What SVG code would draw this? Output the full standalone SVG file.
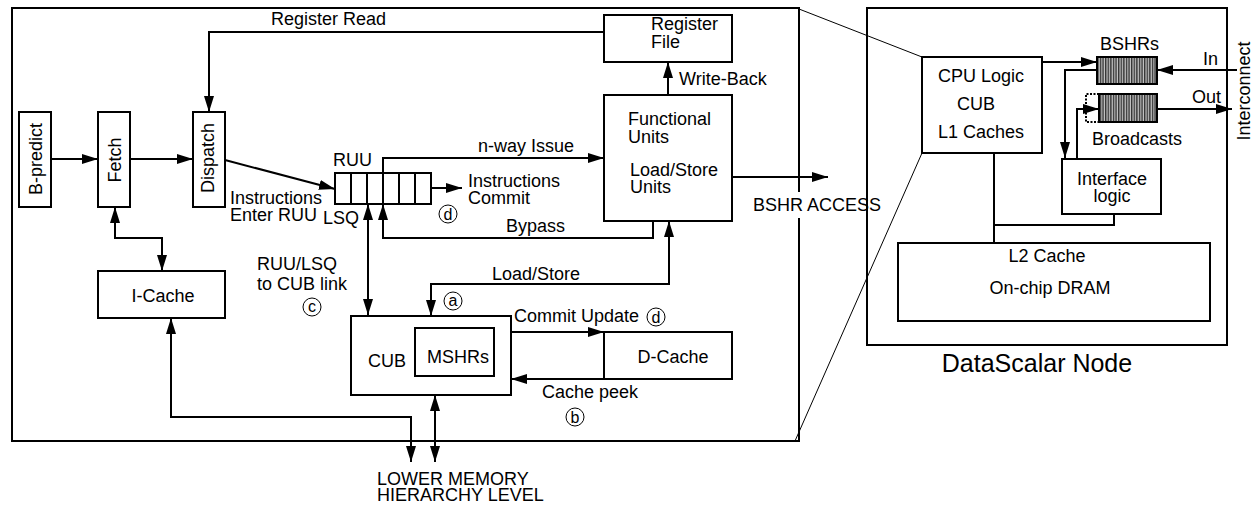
<svg xmlns="http://www.w3.org/2000/svg" width="1253" height="506" viewBox="0 0 1253 506">
<style>
text{font-family:"Liberation Sans",Arial,sans-serif;font-size:18px;fill:#000}
.box{fill:#fff;stroke:#000;stroke-width:2}
.frame{fill:none;stroke:#000;stroke-width:2}
.thin{fill:none;stroke:#000;stroke-width:1}
.e{fill:none;stroke:#000;stroke-width:2}
.ar{marker-end:url(#ah)}
.ar2{marker-start:url(#ah);marker-end:url(#ah)}
.circ{fill:none;stroke:#000;stroke-width:1}
.cl{font-size:16px;text-anchor:middle}
.mid{text-anchor:middle}
</style>
<defs>
<marker id="ah" viewBox="0 0 16 10" refX="16" refY="5" markerWidth="16" markerHeight="10" markerUnits="userSpaceOnUse" orient="auto-start-reverse"><path d="M0,0 L16,5 L0,10 z" fill="#000"/></marker>
<pattern id="stripe" patternUnits="userSpaceOnUse" width="2.6" height="10"><rect width="2.6" height="10" fill="#c8c8c8"/><rect width="1.4" height="10" fill="#333"/></pattern>
</defs>

<g id="frames">
<path class="frame" d="M799,192 V8 H12 V441 H799 V218"/>
<rect class="frame" x="867" y="8" width="360" height="337"/>
<text x="1037" y="372" class="mid" style="font-size:25px">DataScalar Node</text>
</g>

<g id="connectors">
<path class="e ar" d="M51,159 H98"/>
<path class="e ar" d="M130,159 H193"/>
<path class="e ar" d="M604,32 H209 V112"/>
<path class="e ar" d="M225,160 L335,189"/>
<path class="e ar" d="M383,173 V158 H604"/>
<path class="e ar" d="M431,188 H462"/>
<path class="e ar" d="M653,221 V238 H383 V204"/>
<path class="e ar" d="M668,95 V62"/>
<path class="e ar" d="M732,177 H828"/>
<path class="e ar2" d="M669,221 V284 H431 V316"/>
<path class="e ar2" d="M368,204 V315"/>
<path class="e ar2" d="M115,207 V238 H162 V271"/>
<path class="e ar2" d="M171,318 V417 H411 V462"/>
<path class="e ar2" d="M435,395 V462"/>
<path class="e ar" d="M511,332 H604"/>
<path class="e ar" d="M604,379 H511"/>
<path class="e ar" d="M1042,62 H1097"/>
<path class="e ar" d="M1237,70 H1157"/>
<path class="e ar" d="M1097,70 H1065 V158"/>
<path class="e ar" d="M1077,159 V109 H1099"/>
<path class="e ar" d="M1157,109 H1232"/>
<path class="e" d="M994,153 V243 M994,225 H1114 V214"/>
<path class="thin" d="M799,9 L922,57"/>
<path class="thin" d="M795,441 L922,153"/>
<text x="271" y="25">Register Read</text>
<text x="230" y="204">Instructions</text>
<text x="230" y="221">Enter RUU</text>
<text x="478" y="152">n-way Issue</text>
<text x="468" y="187">Instructions</text>
<text x="468" y="204">Commit</text>
<circle class="circ" cx="448" cy="214" r="9"/><text x="448" y="220" class="cl">d</text>
<text x="506" y="232">Bypass</text>
<text x="679" y="85">Write-Back</text>
<text x="753" y="211">BSHR ACCESS</text>
<text x="492" y="280">Load/Store</text>
<circle class="circ" cx="453" cy="301" r="9"/><text x="453" y="306" class="cl">a</text>
<text x="257" y="270">RUU/LSQ</text>
<text x="257" y="290">to CUB link</text>
<circle class="circ" cx="312" cy="307" r="9"/><text x="312" y="312" class="cl">c</text>
<text x="514" y="322">Commit Update</text>
<circle class="circ" cx="656" cy="317" r="9"/><text x="656" y="323" class="cl">d</text>
<text x="542" y="398">Cache peek</text>
<circle class="circ" cx="575" cy="417" r="9"/><text x="575" y="423" class="cl">b</text>
<text x="377" y="485">LOWER MEMORY</text>
<text x="377" y="501">HIERARCHY LEVEL</text>
<text x="1203" y="65">In</text>
<text x="1192" y="103">Out</text>
<text transform="translate(1250,91) rotate(-90)" class="mid">Interconnect</text>
</g>

<g id="bpredict">
<rect class="box" x="19" y="112" width="32" height="95"/>
<text transform="translate(42,159) rotate(-90)" class="mid">B-predict</text>
</g>
<g id="fetch">
<rect class="box" x="98" y="112" width="32" height="95"/>
<text transform="translate(121,160) rotate(-90)" class="mid">Fetch</text>
</g>
<g id="dispatch">
<rect class="box" x="193" y="112" width="32" height="95"/>
<text transform="translate(214,158) rotate(-90)" class="mid">Dispatch</text>
</g>
<g id="ruu">
<rect class="box" x="335" y="173" width="96" height="31"/>
<path class="e" d="M351,173 V204 M367,173 V204 M383,173 V204 M399,173 V204 M415,173 V204"/>
<text x="333" y="166">RUU</text>
<text x="323" y="224">LSQ</text>
</g>
<g id="regfile">
<rect class="box" x="604" y="15" width="128" height="47"/>
<text x="651" y="30">Register</text>
<text x="651" y="48">File</text>
</g>
<g id="fu">
<rect class="box" x="604" y="95" width="128" height="126"/>
<text x="628" y="125">Functional</text>
<text x="628" y="143">Units</text>
<text x="630" y="176">Load/Store</text>
<text x="630" y="193">Units</text>
</g>
<g id="icache">
<rect class="box" x="98" y="271" width="127" height="47"/>
<text x="163" y="302" class="mid">I-Cache</text>
</g>
<g id="cub">
<rect class="box" x="351" y="316" width="160" height="79"/>
<text x="368" y="367">CUB</text>
</g>
<g id="mshrs">
<rect class="box" x="415" y="328" width="79" height="48"/>
<text x="427" y="363">MSHRs</text>
</g>
<g id="dcache">
<rect class="box" x="604" y="332" width="128" height="47"/>
<text x="673" y="363" class="mid">D-Cache</text>
</g>
<g id="cpulogic">
<rect class="box" x="922" y="57" width="120" height="96"/>
<text x="938" y="82">CPU Logic</text>
<text x="957" y="110">CUB</text>
<text x="938" y="138">L1 Caches</text>
</g>
<g id="bshrs">
<rect x="1097" y="57" width="60" height="27" fill="url(#stripe)" stroke="#000" stroke-width="2"/>
<text x="1100" y="50">BSHRs</text>
</g>
<g id="broadcasts">
<rect x="1099" y="94" width="58" height="28" fill="url(#stripe)" stroke="#000" stroke-width="2"/>
<path d="M1099,94 H1086 V122 H1099" fill="none" stroke="#000" stroke-width="2" stroke-dasharray="2,1.5"/>
<text x="1092" y="145">Broadcasts</text>
</g>
<g id="interface">
<rect class="box" x="1062" y="159" width="99" height="55"/>
<text x="1112" y="185" class="mid">Interface</text>
<text x="1112" y="202" class="mid">logic</text>
</g>
<g id="l2">
<rect class="box" x="898" y="243" width="312" height="78"/>
<text x="1047" y="262" class="mid">L2 Cache</text>
<text x="1050" y="294" class="mid">On-chip DRAM</text>
</g>
</svg>
